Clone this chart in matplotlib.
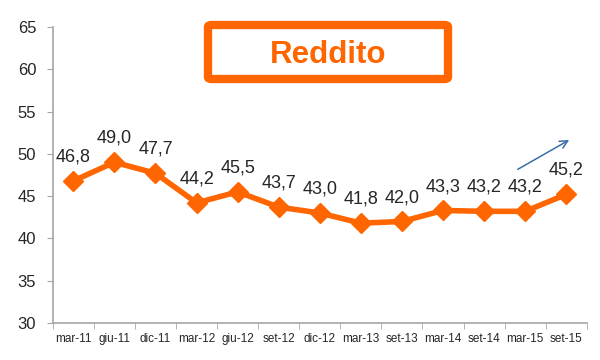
import matplotlib.pyplot as plt
from matplotlib.patches import FancyBboxPatch

plt.rcParams["font.family"] = ["Liberation Sans", "DejaVu Sans"]

etichette = ["mar-11", "giu-11", "dic-11", "mar-12", "giu-12", "set-12", "dic-12",
             "mar-13", "set-13", "mar-14", "set-14", "mar-15", "set-15"]
reddito = [46.8, 49.0, 47.7, 44.2, 45.5, 43.7, 43.0, 41.8, 42.0, 43.3, 43.2, 43.2, 45.2]

ARANCIO = "#FF6600"
GRIGIO = "#A6A6A6"
TESTO = "#262626"


def main():
    fig = plt.figure(figsize=(6, 3.6), dpi=100)
    ax = fig.add_axes([0.088, 0.103, 0.89, 0.822])

    x = list(range(len(reddito)))
    ax.plot(x, reddito, color=ARANCIO, linewidth=4, marker="D", markersize=10,
            markeredgecolor=ARANCIO, zorder=3)

    for xi, v in zip(x, reddito):
        ax.annotate(f"{v:.1f}".replace(".", ","), (xi, v), xytext=(0, 14),
                    textcoords="offset points", ha="center", va="baseline",
                    fontsize=13, color=TESTO)

    ax.set_xlim(-0.5, len(reddito) - 0.5)
    ax.set_ylim(30, 65)
    ax.set_yticks(range(30, 66, 5))
    ax.set_xticks(x)
    ax.set_xticklabels(etichette, fontsize=8.5, color=TESTO)
    ax.set_xticks([i - 0.5 for i in range(len(reddito) + 1)], minor=True)
    ax.tick_params(axis="x", which="major", length=0, pad=7)
    ax.tick_params(axis="x", which="minor", length=4, color=GRIGIO, direction="out")
    ax.tick_params(axis="y", labelsize=12, labelcolor=TESTO, length=4,
                   color=GRIGIO, pad=8)

    for lato in ["top", "right"]:
        ax.spines[lato].set_visible(False)
    for lato in ["left", "bottom"]:
        ax.spines[lato].set_color(GRIGIO)
        ax.spines[lato].set_linewidth(1.2)

    # freccia di tendenza
    ax.annotate("", xy=(12.13, 51.8), xytext=(10.76, 48.0),
                arrowprops=dict(arrowstyle="->", color="#3B6EA8", lw=1.1,
                                mutation_scale=14))

    # riquadro titolo
    box = FancyBboxPatch((208 / 600, 1 - 79 / 360), 240 / 600, 54 / 360,
                         boxstyle="round,pad=0,rounding_size=0.006",
                         transform=fig.transFigure, facecolor="white",
                         edgecolor=ARANCIO, linewidth=6, zorder=5)
    fig.patches.append(box)
    fig.text(328 / 600, 1 - 63 / 360, "Reddito", ha="center", va="baseline",
             fontsize=22.5, fontweight="bold", color=ARANCIO, zorder=6)

    fig.savefig("out.png", dpi=100)
    plt.close(fig)


if __name__ == "__main__":
    main()
